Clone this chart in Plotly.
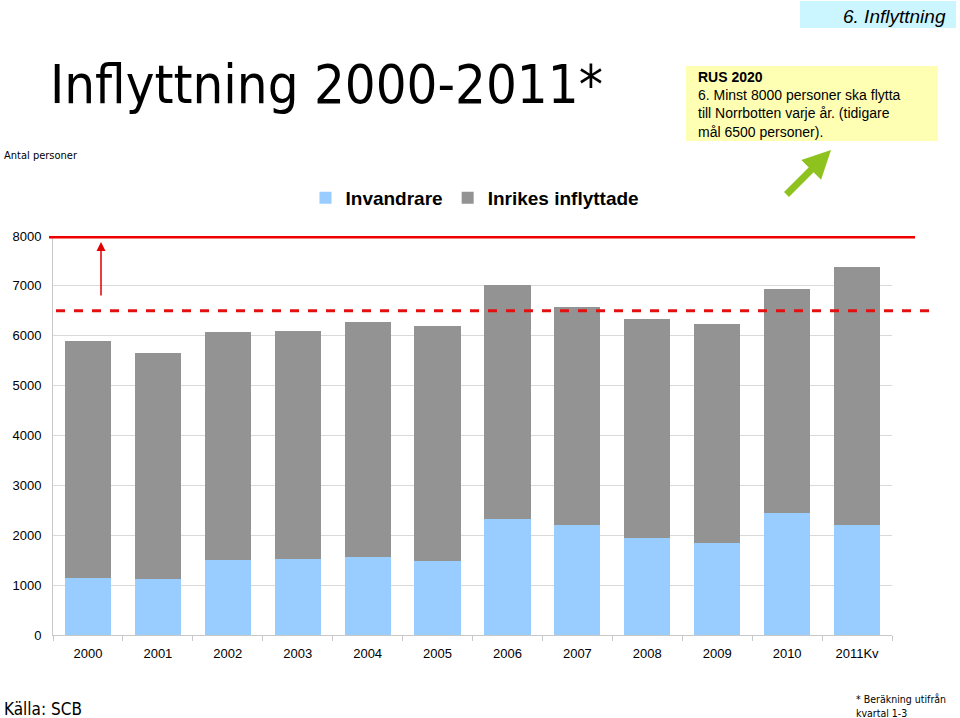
import plotly.graph_objects as go

# Data
years = ["2000", "2001", "2002", "2003", "2004", "2005",
         "2006", "2007", "2008", "2009", "2010", "2011Kv"]
invandrare = [1140, 1120, 1500, 1520, 1560, 1480,
              2320, 2200, 1940, 1840, 2440, 2200]
totalt = [5900, 5650, 6070, 6090, 6270, 6190,
          7010, 6570, 6330, 6230, 6930, 7380]
inrikes = [t - i for t, i in zip(totalt, invandrare)]

y_ticks = [0, 1000, 2000, 3000, 4000, 5000, 6000, 7000, 8000]
mal_ny = 8000
mal_gammal = 6500

W, H = 960, 718
L, R, T, B = 53, 68, 236, 83


def px_x(x):
    return (x - L) / (W - L - R)


def px_y(y):
    return (H - B - y) / (H - T - B)


narrow = "Liberation Sans Narrow, DejaVu Sans Condensed, Arial Narrow, sans-serif"
arial = "Liberation Sans, Arial, Helvetica, sans-serif"

fig = go.Figure()
fig.add_trace(go.Bar(x=years, y=invandrare, name="<b>Invandrare</b>",
                     marker=dict(color="#99CCFF", line_width=0)))
fig.add_trace(go.Bar(x=years, y=inrikes, name="<b>Inrikes inflyttade</b>",
                     marker=dict(color="#939393", line_width=0)))

fig.update_layout(
    barmode="stack",
    bargap=0.34,
    width=W, height=H, autosize=False,
    margin=dict(l=L, r=R, t=T, b=B, autoexpand=False),
    paper_bgcolor="white", plot_bgcolor="white",
    font=dict(family=arial, color="black"),
    showlegend=True,
    legend=dict(orientation="h", x=px_x(475), y=px_y(198),
                xanchor="center", yanchor="middle", traceorder="normal",
                font=dict(size=19, family=arial), itemwidth=30),
)
fig.update_xaxes(showgrid=False, showline=True, linecolor="#C8C8C8",
                 ticks="outside", ticklen=5, tickcolor="#C8C8C8",
                 tickson="boundaries", tickfont=dict(size=13), ticklabelstandoff=6)
fig.update_yaxes(range=[0, 8000], tickvals=y_ticks, showgrid=True,
                 gridcolor="#D9D9D9", showline=True, linecolor="#C8C8C8",
                 zeroline=False, tickfont=dict(size=13), ticks="",
                 ticklabelstandoff=8)

# target lines
fig.add_shape(type="line", xref="paper", yref="y", x0=px_x(49), x1=px_x(915),
              y0=mal_ny, y1=mal_ny, line=dict(color="#EE0000", width=5))
fig.add_shape(type="line", xref="paper", yref="y", x0=px_x(56), x1=px_x(930),
              y0=mal_gammal, y1=mal_gammal,
              line=dict(color="#E31010", width=3, dash="dash"))

# boxes
fig.add_shape(type="rect", xref="paper", yref="paper", x0=px_x(800), x1=px_x(956),
              y0=px_y(28), y1=px_y(1), fillcolor="#CCF6FF", line_width=0, layer="below")
fig.add_shape(type="rect", xref="paper", yref="paper", x0=px_x(686), x1=px_x(938),
              y0=px_y(141), y1=px_y(66), fillcolor="#FFFFB4", line_width=0, layer="below")

# arrows
fig.add_annotation(xref="paper", yref="y", x=px_x(101), y=7880, ax=0, ay=55,
                   text="", showarrow=True, arrowhead=2, arrowsize=1.2,
                   arrowwidth=1.5, arrowcolor="#E00000")
fig.add_annotation(xref="paper", yref="paper", x=px_x(831), y=px_y(150),
                   ax=-46, ay=46, text="", showarrow=True, arrowhead=2,
                   arrowsize=0.8, arrowwidth=7, arrowcolor="#8DC21F")

# texts
fig.add_annotation(xref="paper", yref="paper", x=px_x(48), y=px_y(84),
                   xanchor="left", yanchor="middle", showarrow=False,
                   text="Inflyttning 2000-2011*", font=dict(size=54, family=narrow))
fig.add_annotation(xref="paper", yref="paper", x=px_x(948), y=px_y(16),
                   xanchor="right", yanchor="middle", showarrow=False,
                   text="<i>6. Inflyttning</i>", font=dict(size=19, family=arial))
fig.add_annotation(xref="paper", yref="paper", x=px_x(696), y=px_y(104),
                   xanchor="left", yanchor="middle", showarrow=False, align="left",
                   text="<b>RUS 2020</b><br>6. Minst 8000 personer ska flytta<br>"
                        "till Norrbotten varje år. (tidigare<br>mål 6500 personer).",
                   font=dict(size=14, family=arial))
fig.add_annotation(xref="paper", yref="paper", x=px_x(2), y=px_y(155),
                   xanchor="left", yanchor="middle", showarrow=False,
                   text="Antal personer", font=dict(size=11, family=narrow))
fig.add_annotation(xref="paper", yref="paper", x=px_x(2), y=px_y(709),
                   xanchor="left", yanchor="middle", showarrow=False,
                   text="Källa: SCB", font=dict(size=17, family=narrow))
fig.add_annotation(xref="paper", yref="paper", x=px_x(854), y=px_y(706),
                   xanchor="left", yanchor="middle", showarrow=False, align="left",
                   text="* Beräkning utifrån<br>kvartal 1-3",
                   font=dict(size=10.5, family=narrow))

# the page's default body margin would shift the figure by 8px
fig.write_html("out.html", config={"displayModeBar": False},
               post_script="document.body.style.margin='0';")
